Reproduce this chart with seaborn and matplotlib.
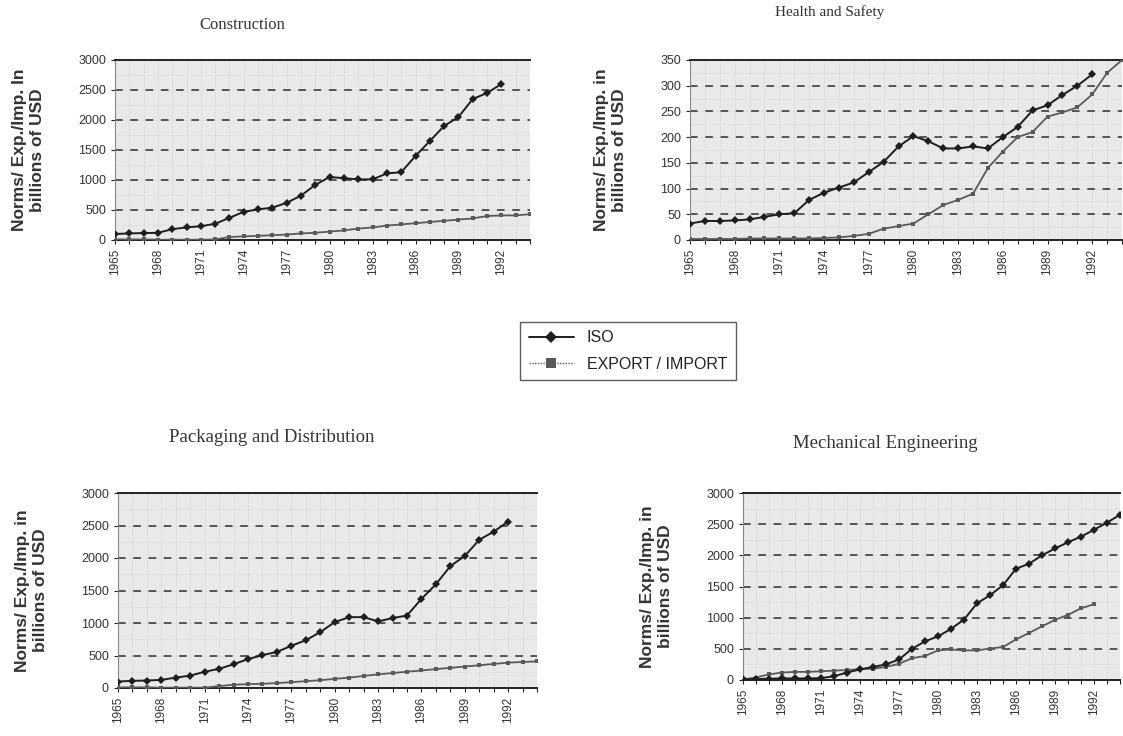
import numpy as np
import pandas as pd
import matplotlib
matplotlib.use("Agg")
import matplotlib.pyplot as plt
import seaborn as sns
from matplotlib.lines import Line2D

nan = np.nan
years = list(range(1965, 1995))
tick_years = list(range(1965, 1993, 3))

# Construction
cons_iso = [100, 110, 115, 120, 180, 210, 230, 270, 370, 470, 510, 540, 620, 740,
            920, 1050, 1030, 1010, 1010, 1110, 1130, 1400, 1650, 1900, 2050, 2350,
            2450, 2600, nan, nan]
cons_exp = [10, 10, 10, 5, 5, 5, 5, 10, 50, 60, 70, 80, 90, 110, 120, 140, 160,
            190, 210, 240, 260, 280, 300, 320, 340, 360, 400, 410, 410, 430]

# Health and Safety
hs_iso = [32, 37, 37, 38, 40, 45, 50, 52, 78, 92, 102, 112, 132, 152, 182, 202,
          192, 178, 178, 182, 178, 200, 220, 252, 262, 282, 300, 322, nan, nan]
hs_exp = [2, 2, 2, 2, 3, 3, 3, 3, 3, 4, 5, 8, 12, 22, 27, 32, 50, 68, 78, 90,
          140, 172, 200, 210, 240, 248, 258, 283, 325, 350]

# Packaging and Distribution
pack_iso = [100, 110, 115, 125, 160, 190, 250, 295, 365, 445, 505, 555, 650, 735,
            860, 1013, 1090, 1090, 1025, 1075, 1115, 1370, 1595, 1875, 2030, 2280,
            2405, 2560, nan, nan]
pack_exp = [10, 10, 10, 5, 5, 5, 5, 30, 50, 60, 65, 75, 90, 105, 120, 140, 160,
            185, 210, 230, 250, 270, 290, 310, 330, 350, 370, 390, 400, 410]

# Mechanical Engineering
mech_iso = [10, 15, 20, 25, 25, 25, 30, 60, 120, 170, 210, 250, 330, 500, 620,
            700, 820, 970, 1230, 1360, 1520, 1785, 1865, 2000, 2110, 2210, 2300,
            2410, 2525, 2650]
mech_exp = [10, 40, 90, 120, 130, 130, 140, 150, 160, 175, 180, 210, 260, 350,
            385, 475, 490, 475, 475, 505, 530, 650, 755, 860, 965, 1045, 1150,
            1215, nan, nan]

panels = [
    ("Construction", cons_iso, cons_exp, 3000, 500,
     [115 / 1123, 1 - 240 / 736, 415 / 1123, 180 / 736], (242, 25), 12,
     "Norms/ Exp./Imp. In\nbillions of USD"),
    ("Health and Safety", hs_iso, hs_exp, 350, 50,
     [690 / 1123, 1 - 240 / 736, 432 / 1123, 180 / 736], (830, 12), 11,
     "Norms/ Exp./Imp. in\nbillions of USD"),
    ("Packaging and Distribution", pack_iso, pack_exp, 3000, 500,
     [118 / 1123, 1 - 688 / 736, 419 / 1123, 195 / 736], (272, 437), 13.5,
     "Norms/ Exp./Imp. in\nbillions of USD"),
    ("Mechanical Engineering", mech_iso, mech_exp, 3000, 500,
     [743 / 1123, 1 - 680 / 736, 377 / 1123, 187 / 736], (885, 443), 13.5,
     "Norms/ Exp./Imp. in\nbillions of USD"),
]

sns.set_style("white")
plt.rcParams['font.family'] = ['Liberation Sans', 'DejaVu Sans']

iso_color = "#1e1e1e"
exp_color = "#5a5a5a"

fig = plt.figure(figsize=(11.23, 7.36), dpi=100)

for title, iso, exp, ymax, step, rect, tpos, tsize, ylab in panels:
    ax = fig.add_axes(rect)
    ax.set_facecolor("#e9e9e9")
    df = pd.DataFrame({"year": years, "iso": iso, "exp": exp})
    # stippled background look
    for y in years:
        ax.axvline(y, color="#c8c8c8", lw=0.6, ls=(0, (1, 2)), zorder=0)
    for v in np.arange(step / 2, ymax, step / 2):
        ax.axhline(v, color="#cfcfcf", lw=0.6, ls=(0, (1, 2)), zorder=0)
    for v in np.arange(step, ymax, step):
        ax.axhline(v, color="#2e2e2e", lw=1.1, ls=(0, (5, 5)), zorder=1)
    sns.lineplot(data=df, x="year", y="exp", ax=ax, color=exp_color, lw=1.3,
                 marker="s", markersize=3.5, markeredgewidth=0, zorder=3)
    sns.lineplot(data=df, x="year", y="iso", ax=ax, color=iso_color, lw=1.4,
                 marker="D", markersize=3.8, markeredgewidth=0, zorder=4)
    ax.set_xlim(1965, 1994)
    ax.set_ylim(0, ymax)
    ax.set_yticks(np.arange(0, ymax + 1, step))
    ax.set_xticks(tick_years)
    ax.set_xticks(years, minor=True)
    ax.set_xticklabels([str(t) for t in tick_years], rotation=90, fontsize=8.5,
                       color="#333333")
    ax.tick_params(axis="y", labelsize=9, labelcolor="#333333", length=3,
                   left=True, width=0.8)
    ax.tick_params(axis="x", which="both", bottom=True, length=3, width=0.8)
    ax.set_xlabel("")
    ax.set_ylabel(ylab, fontsize=12.5, fontweight="bold", color="#333333",
                  labelpad=24, linespacing=1.25)
    for s in ["top", "bottom"]:
        ax.spines[s].set_color("#222222")
        ax.spines[s].set_linewidth(1.4)
    ax.spines["left"].set_color("#888888")
    ax.spines["left"].set_linewidth(0.8)
    ax.spines["right"].set_visible(False)
    fig.text(tpos[0] / 1123, 1 - tpos[1] / 736, title, ha="center", va="center",
             family=["Liberation Serif", "DejaVu Serif"], fontsize=tsize,
             color="#333333")

handles = [
    Line2D([0], [0], color=iso_color, lw=1.4, marker="D", markersize=6,
           markeredgewidth=0),
    Line2D([0], [0], color=exp_color, lw=1.0, ls=(0, (1, 1)), marker="s",
           markersize=7, markeredgewidth=0),
]
leg = fig.legend(handles, ["ISO", "EXPORT / IMPORT"], loc="center",
                 bbox_to_anchor=(628 / 1123, 1 - 351 / 736), fontsize=11.5,
                 frameon=True, fancybox=False, edgecolor="#333333",
                 handlelength=2.8, borderpad=0.55, labelspacing=0.7)
leg.get_frame().set_linewidth(1.0)
for t in leg.get_texts():
    t.set_color("#222222")

fig.savefig("out.png", dpi=100)
